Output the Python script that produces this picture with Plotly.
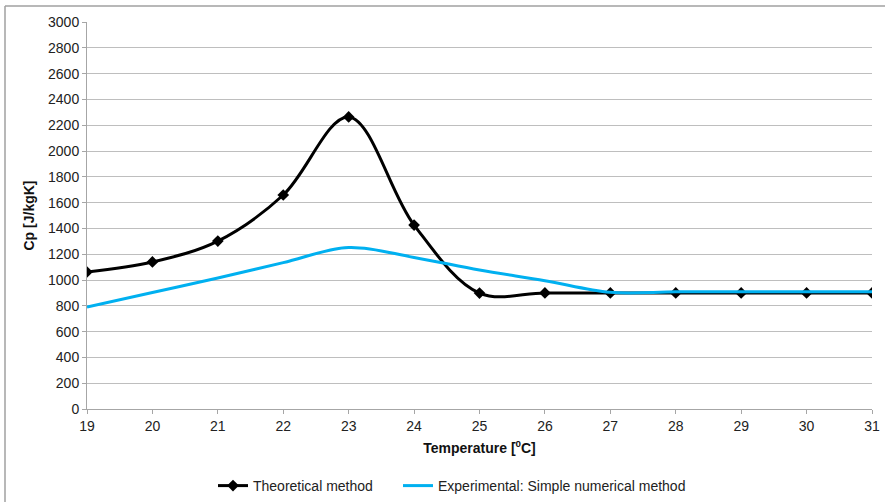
import plotly.graph_objects as go

# Temperature axis (°C)
temperature = [19, 20, 21, 22, 23, 24, 25, 26, 27, 28, 29, 30, 31]

# Specific heat capacity Cp [J/kgK]
cp_theoretical = [1062, 1140, 1302, 1659, 2264, 1426, 899, 900, 900, 900, 900, 900, 900]
cp_experimental = [790, 903, 1015, 1135, 1252, 1175, 1078, 995, 905, 908, 908, 908, 908]

y_ticks = list(range(0, 3001, 200))

FONT = "Liberation Sans, Arial, sans-serif"
GRID = "#BEBEBE"
AXIS = "#A6A6A6"

fig = go.Figure()

fig.add_trace(go.Scatter(
    x=temperature, y=cp_theoretical,
    mode="lines+markers",
    name="Theoretical method",
    line=dict(color="#000000", width=3, shape="spline", smoothing=1),
    marker=dict(symbol="diamond", size=9, color="#000000"),
    legend="legend",
))

fig.add_trace(go.Scatter(
    x=temperature, y=cp_experimental,
    mode="lines",
    name="Experimental: Simple numerical method",
    line=dict(color="#00B0F0", width=3, shape="spline", smoothing=1),
    legend="legend2",
))

# chart frame (top and left edges)
L, R, T, B = 87, 13, 22, 93
W, H = 885, 502
pw, ph = W - L - R, H - T - B
def px(p):
    return (p - L) / pw
def py(q):
    return (H - B - q) / ph

fig.add_shape(type="line", xref="paper", yref="paper",
              x0=px(5), x1=px(885), y0=py(6), y1=py(6),
              line=dict(color="#A0A0A0", width=1.5))
fig.add_shape(type="line", xref="paper", yref="paper",
              x0=px(5), x1=px(5), y0=py(6), y1=py(502),
              line=dict(color="#A0A0A0", width=1.5))

legend_style = dict(
    orientation="h",
    xref="container", yref="container",
    xanchor="left",
    y=(H - 486) / H, yanchor="middle",
    font=dict(family=FONT, size=14, color="#222222"),
    bgcolor="rgba(0,0,0,0)",
)

fig.update_layout(
    width=W, height=H,
    margin=dict(l=L, r=R, t=T, b=B, autoexpand=False),
    paper_bgcolor="white",
    plot_bgcolor="white",
    font=dict(family=FONT, size=14, color="#222222"),
    showlegend=True,
    legend=dict(legend_style, x=213 / W),
    legend2=dict(legend_style, x=398 / W),
    xaxis=dict(
        range=[19, 31],
        automargin=False,
        tickmode="array", tickvals=temperature,
        showgrid=False,
        showline=True, linecolor=AXIS, linewidth=1,
        ticks="outside", ticklen=4, tickcolor=AXIS,
        zeroline=False,
        title=dict(text="<b>Temperature [<sup>0</sup>C]</b>",
                   font=dict(family=FONT, size=14, color="#111111"),
                   standoff=10),
    ),
    yaxis=dict(
        range=[0, 3000],
        automargin=False,
        tickmode="array", tickvals=y_ticks,
        showgrid=True, gridcolor=GRID, gridwidth=1,
        showline=True, linecolor=AXIS, linewidth=1,
        ticks="outside", ticklen=4, tickcolor=AXIS,
        zeroline=False,
        title=dict(text="<b>Cp [J/kgK]</b>",
                   font=dict(family=FONT, size=14, color="#111111"),
                   standoff=10),
    ),
)

fig.write_html("out.html")
